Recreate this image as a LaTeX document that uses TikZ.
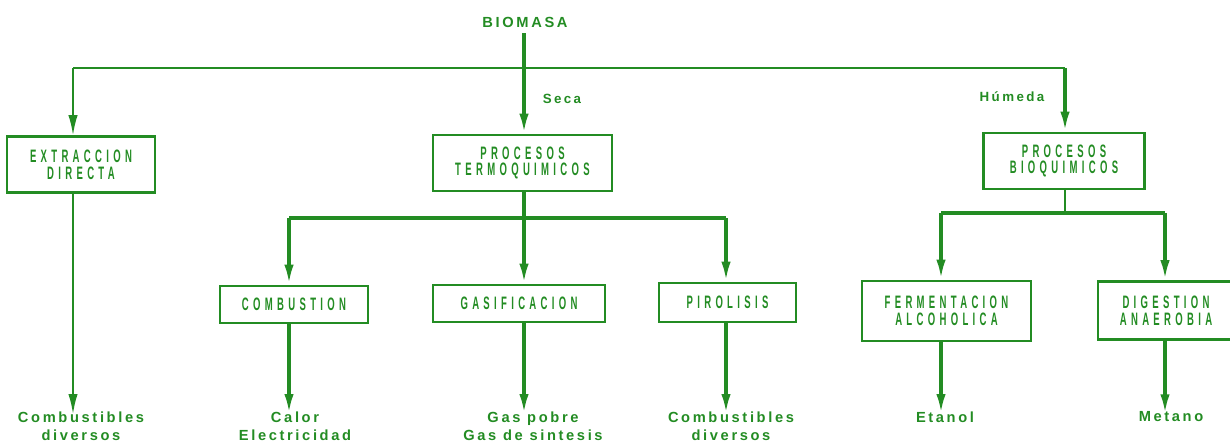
\documentclass[tikz,border=0pt]{standalone}
\usepackage{fontspec}
\setmainfont{Liberation Sans}
\newfontfamily\cajafont[LetterSpace=24,FakeStretch=0.53]{Liberation Sans}
\newfontfamily\salfont[LetterSpace=18]{Liberation Sans}
\usetikzlibrary{arrows.meta}
\definecolor{verde}{RGB}{35,140,35}

\tikzset{
  caja/.style={draw=verde, line width=2pt, inner sep=0pt, align=center, text=verde,
    font=\cajafont\bfseries\fontsize{13.5}{12.5}\selectfont},
  salida/.style={text=verde, align=center, inner sep=0pt,
    font=\salfont\bfseries\fontsize{11}{13.5}\selectfont},
  rotulo/.style={text=verde, inner sep=0pt, font=\salfont\bfseries\fontsize{10}{12}\selectfont},
  linea/.style={draw=verde, line width=2.6pt},
  fina/.style={draw=verde, line width=1.3pt},
  flecha/.style={linea, -{Latex[length=15pt,width=7pt]}},
  flechafina/.style={fina, -{Latex[length=15pt,width=7pt]}},
}

\begin{document}
\begin{tikzpicture}[x=0.75pt,y=0.75pt,yscale=-1,xscale=1]
\useasboundingbox (0,0) rectangle (1230,442);
\clip (0,0) rectangle (1230,442);

% origen
\node (biomasa) at (525,22) [salida] {BIOMASA};
\coordinate (jl) at (73,68);
\coordinate (jr) at (1065,68);

% primer nivel
\node (extr) at (81,164.5) [caja, minimum width=111pt, minimum height=42pt] {EXTRACCION\\DIRECTA};
\node (termo) at (522.5,163) [caja, minimum width=134.25pt, minimum height=42pt] {PROCESOS\\TERMOQUIMICOS};
\node (bio) at (1064,161) [caja, minimum width=120.75pt, minimum height=42pt] {PROCESOS\\BIOQUIMICOS};
\node (seca) at (562,99) [rotulo] {Seca};
\node (humeda) at (1012,97) [rotulo] {Húmeda};

% segundo nivel
\coordinate (ta) at (289,218);
\coordinate (tb) at (524,218);
\coordinate (tc) at (726,218);
\coordinate (ba) at (941,213);
\coordinate (bb) at (1165,213);
\node (comb) at (294,304.5) [caja, minimum width=111pt, minimum height=27.75pt] {COMBUSTION};
\node (gasif) at (519,303.5) [caja, minimum width=129pt, minimum height=27.75pt] {GASIFICACION};
\node (piro) at (727.5,302.5) [caja, minimum width=102.75pt, minimum height=29.25pt] {PIROLISIS};
\node (ferm) at (946.5,311) [caja, minimum width=126.75pt, minimum height=45pt] {FERMENTACION\\ALCOHOLICA};
\node (dig) at (1166,310.5) [caja, minimum width=102pt, minimum height=43.5pt] {DIGESTION\\ANAEROBIA};

% productos
\node (prod1) at (81,426) [salida] {Combustibles\\diversos};
\node (prod2) at (295,426) [salida] {Calor\\Electricidad};
\node (prod3) at (533,426) [salida] {Gas pobre\\Gas de sintesis};
\node (prod4) at (731,426) [salida] {Combustibles\\diversos};
\node (prod5) at (945,417) [salida] {Etanol};
\node (prod6) at (1171,417) [salida] {Metano};

% conexiones
\draw [fina] (jl) -- (jr);
\draw [flechafina] (jl) -- (jl |- extr.north);
\draw [flecha] (biomasa.south -| tb) ++(0,6) -- (tb |- termo.north);
\draw [flecha] (jr) -- (jr |- bio.north);
\draw [flechafina] (jl |- extr.south) -- ([yshift=2pt]jl |- prod1.north);

\draw [linea] (tb |- termo.south) -- (tb);
\draw [linea] (ta) -- (tc);
\draw [flecha] (ta) -- (ta |- comb.north);
\draw [flecha] (tb) -- (tb |- gasif.north);
\draw [flecha] (tc) -- (tc |- piro.north);

\draw [fina] (jr |- bio.south) -- (jr |- ba);
\draw [linea] (ba) -- (bb);
\draw [flecha] (ba) -- (ba |- ferm.north);
\draw [flecha] (bb) -- (bb |- dig.north);

\draw [flecha] (ta |- comb.south) -- ([yshift=2pt]ta |- prod2.north);
\draw [flecha] (tb |- gasif.south) -- ([yshift=2pt]tb |- prod3.north);
\draw [flecha] (tc |- piro.south) -- ([yshift=2pt]tc |- prod4.north);
\draw [flecha] (ba |- ferm.south) -- ([yshift=2pt]ba |- prod5.north);
\draw [flecha] (bb |- dig.south) -- ([yshift=2pt]bb |- prod6.north);

\end{tikzpicture}
\end{document}
